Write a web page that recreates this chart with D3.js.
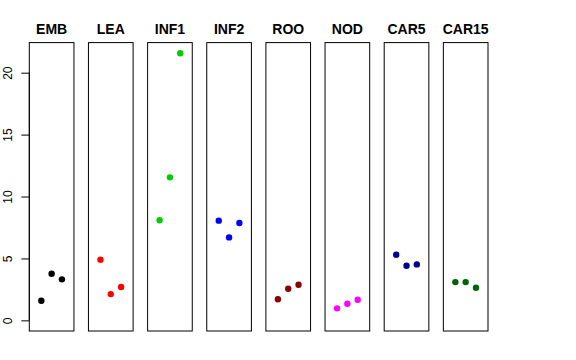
<!DOCTYPE html>
<html><head><meta charset="utf-8">
<script src="https://cdn.jsdelivr.net/npm/d3@7"></script>
<style>body{margin:0;background:#fff}svg{display:block}</style>
</head><body><svg id="c" width="576" height="360"></svg>
<script>
const categories = ["EMB","LEA","INF1","INF2","ROO","NOD","CAR5","CAR15"];
const colors = ["#000000","#FF0000","#00CD00","#0000FF","#8B0000","#FF00FF","#00008B","#006400"];
const values = [
  [1.58, 3.76, 3.31],
  [4.90, 2.12, 2.69],
  [8.08, 11.55, 21.57],
  [8.05, 6.70, 7.86],
  [1.70, 2.55, 2.88],
  [0.97, 1.34, 1.66],
  [5.30, 4.41, 4.52],
  [3.09, 3.09, 2.63]
];
const yTicks = [0, 5, 10, 15, 20];

const svg = d3.select("#c");
const font = "'Liberation Sans', Arial, Helvetica, sans-serif";

const band = d3.scaleBand().domain(categories).range([29.3, 488]).paddingInner(0.245).paddingOuter(0);
const y = d3.scaleLinear().domain([-0.86, 22.43]).range([331, 42.6]);
const xin = d3.scaleLinear().domain([-0.165, 4.165]).range([0, band.bandwidth()]);

categories.forEach((cat, i) => {
  const g = svg.append("g").attr("transform", `translate(${band(cat)},0)`);
  g.append("rect").attr("x", 0).attr("y", y(22.43)).attr("width", band.bandwidth())
    .attr("height", y(-0.86) - y(22.43)).attr("fill", "none").attr("stroke", "#000").attr("stroke-width", 1);
  g.append("text").attr("x", band.bandwidth() / 2).attr("y", 34)
    .attr("text-anchor", "middle").attr("font-family", font).attr("font-weight", "bold")
    .attr("font-size", 14).text(cat);
  g.selectAll("circle").data(values[i]).enter().append("circle")
    .attr("cx", (d, j) => xin(j + 1)).attr("cy", d => y(d)).attr("r", 3.2)
    .attr("fill", colors[i]);
});

const axis = d3.axisLeft(y).tickValues(yTicks).tickSize(8).tickPadding(0).tickFormat(d3.format("d"));
const ag = svg.append("g").attr("transform", `translate(${band(categories[0])},0)`).call(axis);
ag.select(".domain").attr("d", `M0,${y(0)}V${y(20)}`).attr("stroke", "#000");
ag.selectAll(".tick line").attr("stroke", "#000");
ag.selectAll(".tick text").attr("font-family", font).attr("font-size", 12).attr("fill", "#000")
  .attr("text-anchor", "middle").attr("dy", null)
  .attr("transform", "translate(-17,0) rotate(-90)").attr("x", 0).attr("y", 0);
</script></body></html>
